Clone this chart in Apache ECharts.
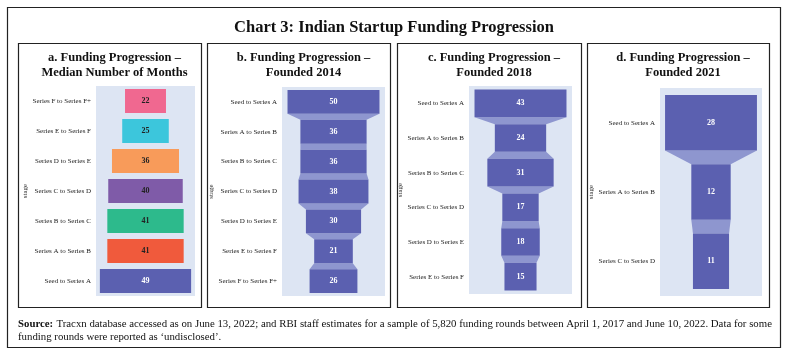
<!DOCTYPE html>
<html><head><meta charset="utf-8">
<script src="https://cdn.jsdelivr.net/npm/echarts@6/dist/echarts.min.js"></script>
<style>html,body{margin:0;padding:0;background:#fff}#c{width:788px;height:355px}</style>
</head><body><div id="c"></div>
<script>
// ---- data ----
const stagesA = ['Series F to Series F+','Series E to Series F','Series D to Series E','Series C to Series D','Series B to Series C','Series A to Series B','Seed to Series A'];
const valuesA = [22, 25, 36, 40, 41, 41, 49];
const colorsA = ['#f06890','#3cc6dc','#f89b5a','#7f5ba8','#2dba8c','#f05a3c','#5b60b0'];

const stagesB = ['Seed to Series A','Series A to Series B','Series B to Series C','Series C to Series D','Series D to Series E','Series E to Series F','Series F to Series F+'];
const valuesB = [50, 36, 36, 38, 30, 21, 26];

const stagesC = ['Seed to Series A','Series A to Series B','Series B to Series C','Series C to Series D','Series D to Series E','Series E to Series F'];
const valuesC = [43, 24, 31, 17, 18, 15];

const stagesD = ['Seed to Series A','Series A to Series B','Series C to Series D'];
const valuesD = [28, 12, 11];

const chartTitle = 'Chart 3: Indian Startup Funding Progression';
const panelTitles = ['a. Funding Progression –\nMedian Number of Months','b. Funding Progression –\nFounded 2014','c. Funding Progression –\nFounded 2018','d. Funding Progression –\nFounded 2021'];
const sourceText = 'Tracxn database accessed as on June 13, 2022; and RBI staff estimates for a sample of 5,820 funding rounds between April 1, 2017 and June 10, 2022. Data for some';
const sourceText2 = 'funding rounds were reported as \u2018undisclosed\u2019.';

// ---- layout ----
const SERIF = '"Liberation Serif", "DejaVu Serif", serif';
const BAR = '#5b60b0', CONN = '#8e96cf', BG = '#dde5f3';
const panels = [
  {frame:[18,43,183,264], grid:{left:96, top:86, width:99, height:210}, stages:stagesA, values:valuesA, colors:colorsA, conn:false, k:1.085, nameGap:66, labelColor:'#222'},
  {frame:[207,43,183,264], grid:{left:282, top:87, width:103, height:209}, stages:stagesB, values:valuesB, conn:true, k:1.12, nameGap:65},
  {frame:[397,43,184,264], grid:{left:469, top:86, width:103, height:208}, stages:stagesC, values:valuesC, conn:true, k:1.12, nameGap:62},
  {frame:[587,43,182,264], grid:{left:660, top:88, width:102, height:208}, stages:stagesD, values:valuesD, conn:true, k:1.11, nameGap:63}
];
const BARFRAC = 0.8;

const grids=[], xAxes=[], yAxes=[], series=[], titles=[], graphics=[];
graphics.push({type:'rect', shape:{x:7.5,y:7.5,width:773,height:340}, style:{fill:'none', stroke:'#222', lineWidth:1.2}});
titles.push({text:chartTitle, left:'center', top:14, textStyle:{fontFamily:SERIF, fontWeight:'bold', fontSize:16.5, color:'#111'}});
graphics.push({type:'text', left:18, top:318, style:{
  rich:{b:{fontFamily:SERIF, fontWeight:'bold', fontSize:10.8, fill:'#111', lineHeight:13}, n:{fontFamily:SERIF, fontSize:10.8, fill:'#111', lineHeight:13}},
  text:'{b|Source:} {n|'+sourceText+'}\n{n|'+sourceText2+'}'}});

panels.forEach((p,i)=>{
  const [fx,fy,fw,fh]=p.frame;
  graphics.push({type:'rect', shape:{x:fx+0.5,y:fy+0.5,width:fw,height:fh}, style:{fill:'none', stroke:'#222', lineWidth:1.2}});
  titles.push({text:panelTitles[i], left:fx+fw/2, textAlign:'center', top:45, textStyle:{fontFamily:SERIF, fontWeight:'bold', fontSize:12.5, lineHeight:15, color:'#111'}});
  grids.push(Object.assign({show:true, backgroundColor:BG, borderWidth:0}, p.grid));
  const half = Math.max(...p.values)*p.k/2;
  xAxes.push({type:'value', gridIndex:i, min:-half, max:half, show:false});
  yAxes.push({type:'category', gridIndex:i, data:p.stages, inverse:true,
    name:'stage', nameLocation:'middle', nameGap:p.nameGap, nameRotate:90,
    nameTextStyle:{fontFamily:SERIF, fontSize:7, color:'#333'},
    axisLine:{show:false}, axisTick:{show:false},
    axisLabel:{fontFamily:SERIF, fontSize:7, color:'#222', margin:5}});
  const vals=p.values;
  series.push({type:'custom', xAxisIndex:i, yAxisIndex:i,
    data: vals.map((v,j)=>[v,j]),
    renderItem:(params, api)=>{
      const j = api.value(1), v = api.value(0);
      const c = api.coord([0,j]);
      const band = api.size([0,1])[1];
      const h = band*BARFRAC;
      const w = api.size([v,0])[0];
      const children=[];
      if(p.conn && j < vals.length-1){
        const c2 = api.coord([0,j+1]);
        const w2 = api.size([vals[j+1],0])[0];
        children.push({type:'polygon', shape:{points:[[c[0]-w/2,c[1]+h/2],[c[0]+w/2,c[1]+h/2],[c2[0]+w2/2,c2[1]-h/2],[c2[0]-w2/2,c2[1]-h/2]]}, style:{fill:CONN}});
      }
      const col = p.colors ? p.colors[j] : BAR;
      children.push({type:'rect', shape:{x:c[0]-w/2, y:c[1]-h/2, width:w, height:h}, style:{fill:col}});
      const txtCol = (p.labelColor && col!==BAR) ? p.labelColor : '#fff';
      children.push({type:'text', x:c[0], y:c[1], style:{text:String(v), align:'center', verticalAlign:'middle', fontFamily:SERIF, fontWeight:'bold', fontSize:8, fill:txtCol}});
      return {type:'group', children};
    }});
});

const chart = echarts.init(document.getElementById('c'), null, {renderer:'canvas'});
chart.setOption({animation:false, title:titles, grid:grids, xAxis:xAxes, yAxis:yAxes, series, graphic:graphics});
</script></body></html>
